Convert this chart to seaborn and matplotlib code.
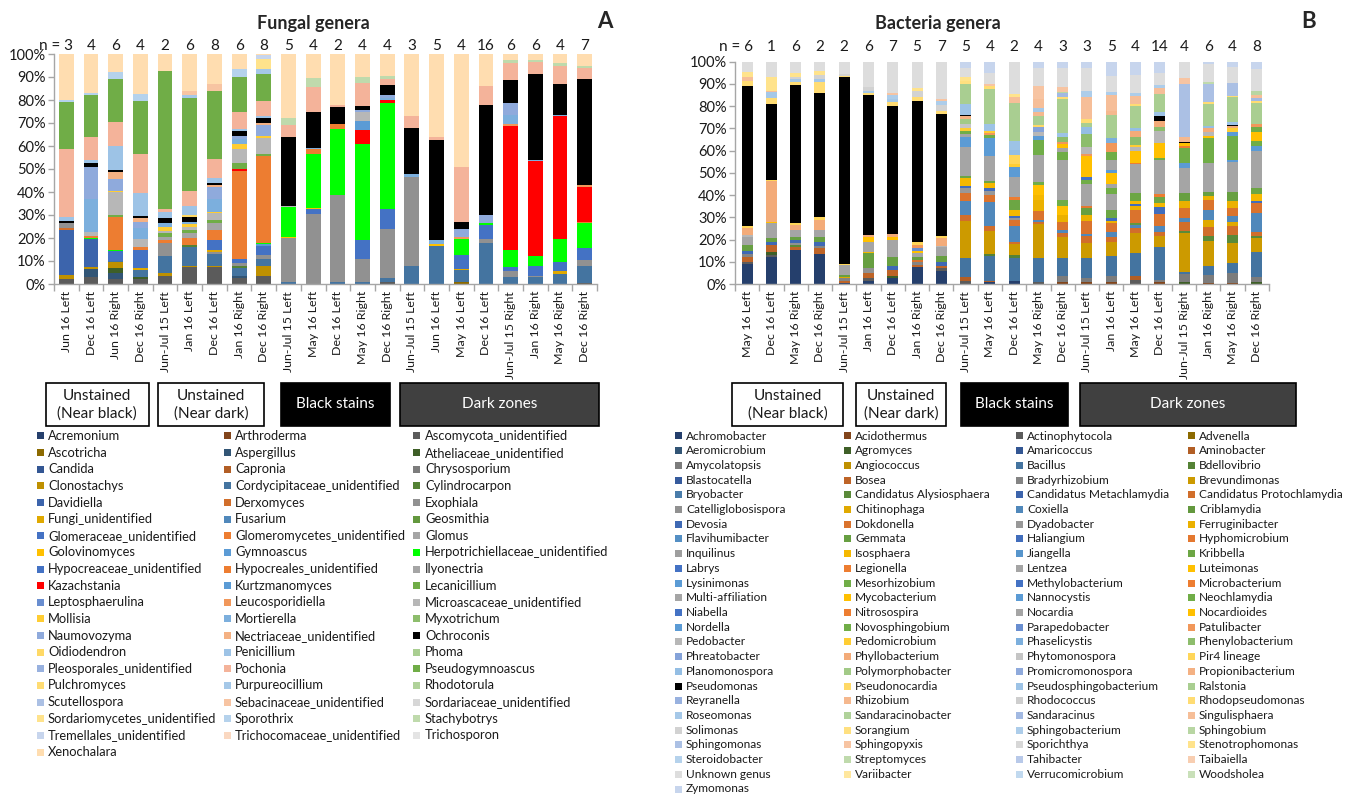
import numpy as np
import pandas as pd
import matplotlib
matplotlib.use("Agg")
import matplotlib.pyplot as plt
import matplotlib.colors as mcolors
from matplotlib.patches import Rectangle
from matplotlib.transforms import blended_transform_factory
import seaborn as sns

# ---------------------------------------------------------------- data
sample_groups = ["Unstained\n(Near black)", "Unstained\n(Near dark)", "Black stains", "Dark zones"]
group_sizes = [4, 5, 5, 8]

fungal_samples = ["Jun 16 Left", "Dec 16 Left", "Jun 16 Right", "Dec 16 Right",
                  "Jun-Jul 15 Left", "Jan 16 Left", "Dec 16 Left", "Jan 16 Right", "Dec 16 Right",
                  "Jun-Jul 15 Left", "May 16 Left", "Dec 16 Left", "May 16 Right", "Dec 16 Right",
                  "Jun-Jul 15 Left", "Jun 16 Left", "May 16 Left", "Dec 16 Left",
                  "Jun-Jul 15 Right", "Jan 16 Right", "May 16 Right", "Dec 16 Right"]
fungal_n = [3, 4, 6, 4, 2, 6, 8, 6, 8, 5, 4, 2, 4, 4, 3, 5, 4, 16, 6, 6, 4, 7]

bacteria_samples = ["May 16 Left", "Dec 16 Left", "May 16 Right", "Dec 16 Right",
                    "Jun-Jul 15 Left", "Jan 16 Left", "Dec 16 Left", "Jan 16 Right", "Dec 16 Right",
                    "Jun-Jul 15 Left", "May 16 Left", "Dec 16 Left", "May 16 Right", "Dec 16 Right",
                    "Jun-Jul 15 Left", "Jan 16 Left", "May 16 Left", "Dec 16 Left",
                    "Jun-Jul 15 Right", "Jan 16 Right", "May 16 Right", "Dec 16 Right"]
bacteria_n = [6, 1, 6, 2, 2, 6, 7, 5, 7, 5, 4, 2, 4, 3, 3, 5, 4, 14, 4, 6, 4, 8]

pct_ticks = [0, 10, 20, 30, 40, 50, 60, 70, 80, 90, 100]

fungal_genera = [
    "Acremonium", "Arthroderma", "Ascomycota_unidentified",
    "Ascotricha", "Aspergillus", "Atheliaceae_unidentified",
    "Candida", "Capronia", "Chrysosporium",
    "Clonostachys", "Cordycipitaceae_unidentified", "Cylindrocarpon",
    "Davidiella", "Derxomyces", "Exophiala",
    "Fungi_unidentified", "Fusarium", "Geosmithia",
    "Glomeraceae_unidentified", "Glomeromycetes_unidentified", "Glomus",
    "Golovinomyces", "Gymnoascus", "Herpotrichiellaceae_unidentified",
    "Hypocreaceae_unidentified", "Hypocreales_unidentified", "Ilyonectria",
    "Kazachstania", "Kurtzmanomyces", "Lecanicillium",
    "Leptosphaerulina", "Leucosporidiella", "Microascaceae_unidentified",
    "Mollisia", "Mortierella", "Myxotrichum",
    "Naumovozyma", "Nectriaceae_unidentified", "Ochroconis",
    "Oidiodendron", "Penicillium", "Phoma",
    "Pleosporales_unidentified", "Pochonia", "Pseudogymnoascus",
    "Pulchromyces", "Purpureocillium", "Rhodotorula",
    "Scutellospora", "Sebacinaceae_unidentified", "Sordariaceae_unidentified",
    "Sordariomycetes_unidentified", "Sporothrix", "Stachybotrys",
    "Tremellales_unidentified", "Trichocomaceae_unidentified", "Trichosporon",
    "Xenochalara",
]

bacteria_genera = [
    "Achromobacter", "Acidothermus", "Actinophytocola", "Advenella",
    "Aeromicrobium", "Agromyces", "Amaricoccus", "Aminobacter",
    "Amycolatopsis", "Angiococcus", "Bacillus", "Bdellovibrio",
    "Blastocatella", "Bosea", "Bradyrhizobium", "Brevundimonas",
    "Bryobacter", "Candidatus Alysiosphaera", "Candidatus Metachlamydia", "Candidatus Protochlamydia",
    "Catelliglobosispora", "Chitinophaga", "Coxiella", "Criblamydia",
    "Devosia", "Dokdonella", "Dyadobacter", "Ferruginibacter",
    "Flavihumibacter", "Gemmata", "Haliangium", "Hyphomicrobium",
    "Inquilinus", "Isosphaera", "Jiangella", "Kribbella",
    "Labrys", "Legionella", "Lentzea", "Luteimonas",
    "Lysinimonas", "Mesorhizobium", "Methylobacterium", "Microbacterium",
    "Multi-affiliation", "Mycobacterium", "Nannocystis", "Neochlamydia",
    "Niabella", "Nitrosospira", "Nocardia", "Nocardioides",
    "Nordella", "Novosphingobium", "Parapedobacter", "Patulibacter",
    "Pedobacter", "Pedomicrobium", "Phaselicystis", "Phenylobacterium",
    "Phreatobacter", "Phyllobacterium", "Phytomonospora", "Pir4 lineage",
    "Planomonospora", "Polymorphobacter", "Promicromonospora", "Propionibacterium",
    "Pseudomonas", "Pseudonocardia", "Pseudosphingobacterium", "Ralstonia",
    "Reyranella", "Rhizobium", "Rhodococcus", "Rhodopseudomonas",
    "Roseomonas", "Sandaracinobacter", "Sandaracinus", "Singulisphaera",
    "Solimonas", "Sorangium", "Sphingobacterium", "Sphingobium",
    "Sphingomonas", "Sphingopyxis", "Sporichthya", "Stenotrophomonas",
    "Steroidobacter", "Streptomyces", "Tahibacter", "Taibaiella",
    "Unknown genus", "Variibacter", "Verrucomicrobium", "Woodsholea",
    "Zymomonas",
]

# Fungal genera: relative abundance (%) per sample
fun_01 = {"Ascomycota_unidentified": 2, "Clonostachys": 2, "Davidiella": 19.5, "Derxomyces": 1,
          "Exophiala": 2, "Ochroconis": 1, "Penicillium": 1.5, "Pochonia": 29.5,
          "Pseudogymnoascus": 20.5, "Sporothrix": 1, "Xenochalara": 20}
fun_02 = {"Ascomycota_unidentified": 3, "Aspergillus": 3.5, "Clonostachys": 1, "Davidiella": 12,
          "Herpotrichiellaceae_unidentified": 0.5, "Hypocreales_unidentified": 1,
          "Microascaceae_unidentified": 1.5, "Mortierella": 14.5, "Naumovozyma": 14, "Ochroconis": 1.5,
          "Penicillium": 1.5, "Pochonia": 10, "Pseudogymnoascus": 18, "Sporothrix": 1, "Xenochalara": 17}
fun_03 = {"Ascomycota_unidentified": 2, "Aspergillus": 3, "Atheliaceae_unidentified": 2, "Clonostachys": 2.5,
          "Cordycipitaceae_unidentified": 0.5, "Glomeraceae_unidentified": 4.5,
          "Herpotrichiellaceae_unidentified": 0.5, "Hypocreales_unidentified": 14, "Lecanicillium": 1,
          "Microascaceae_unidentified": 10, "Mollisia": 0.5, "Naumovozyma": 5,
          "Nectriaceae_unidentified": 3, "Ochroconis": 1, "Penicillium": 10.5, "Pochonia": 10.5,
          "Pseudogymnoascus": 18.5, "Sporothrix": 3, "Xenochalara": 8}
fun_04 = {"Ascomycota_unidentified": 2, "Atheliaceae_unidentified": 1, "Cordycipitaceae_unidentified": 3,
          "Fungi_unidentified": 1, "Glomeraceae_unidentified": 8, "Hypocreales_unidentified": 1,
          "Microascaceae_unidentified": 3.5, "Mortierella": 5, "Naumovozyma": 2.5,
          "Nectriaceae_unidentified": 1.5, "Ochroconis": 1, "Penicillium": 10, "Pochonia": 17,
          "Pseudogymnoascus": 23, "Sporothrix": 3, "Xenochalara": 17.5}
fun_05 = {"Ascomycota_unidentified": 3.5, "Clonostachys": 1.5, "Cordycipitaceae_unidentified": 7,
          "Exophiala": 6, "Hypocreales_unidentified": 1, "Ilyonectria": 1.5, "Lecanicillium": 1.5,
          "Microascaceae_unidentified": 1, "Mollisia": 2, "Mortierella": 1.5, "Ochroconis": 2,
          "Penicillium": 3, "Pochonia": 1, "Pseudogymnoascus": 60, "Xenochalara": 7.5}
fun_06 = {"Ascomycota_unidentified": 7.5, "Clonostachys": 0.5, "Cordycipitaceae_unidentified": 8,
          "Cylindrocarpon": 1, "Hypocreales_unidentified": 3, "Ilyonectria": 2, "Lecanicillium": 1.5,
          "Microascaceae_unidentified": 1.5, "Mollisia": 1, "Mortierella": 1, "Ochroconis": 2,
          "Oidiodendron": 1, "Penicillium": 4, "Pochonia": 6.5, "Pseudogymnoascus": 40.5,
          "Purpureocillium": 1, "Sebacinaceae_unidentified": 2, "Xenochalara": 16}
fun_07 = {"Ascomycota_unidentified": 7.5, "Clonostachys": 0.5, "Cordycipitaceae_unidentified": 5,
          "Exophiala": 1, "Fungi_unidentified": 1, "Glomeraceae_unidentified": 4,
          "Hypocreales_unidentified": 4.5, "Ilyonectria": 3, "Lecanicillium": 1.5,
          "Microascaceae_unidentified": 3, "Mollisia": 0.5, "Mortierella": 5.5, "Naumovozyma": 5,
          "Nectriaceae_unidentified": 1, "Ochroconis": 1, "Penicillium": 2, "Pochonia": 8.5,
          "Pseudogymnoascus": 29.5, "Sebacinaceae_unidentified": 3, "Xenochalara": 13}
fun_08 = {"Ascomycota_unidentified": 2.5, "Aspergillus": 1, "Cordycipitaceae_unidentified": 3.5,
          "Cylindrocarpon": 1, "Exophiala": 1, "Glomeraceae_unidentified": 2,
          "Hypocreales_unidentified": 38, "Kazachstania": 1, "Lecanicillium": 2.5,
          "Microascaceae_unidentified": 6, "Mollisia": 2.5, "Mortierella": 2, "Naumovozyma": 1.5,
          "Ochroconis": 2, "Penicillium": 1, "Pochonia": 7.5, "Pseudogymnoascus": 15,
          "Sporothrix": 3.5, "Xenochalara": 6.5}
fun_09 = {"Ascomycota_unidentified": 3.5, "Clonostachys": 4.5, "Cordycipitaceae_unidentified": 3,
          "Exophiala": 1.5, "Glomeraceae_unidentified": 4, "Gymnoascus": 1,
          "Herpotrichiellaceae_unidentified": 0.5, "Hypocreales_unidentified": 37.5, "Lecanicillium": 1,
          "Microascaceae_unidentified": 7, "Mollisia": 1, "Naumovozyma": 4.5,
          "Nectriaceae_unidentified": 1, "Ochroconis": 2, "Penicillium": 1, "Pochonia": 6.5,
          "Pseudogymnoascus": 12, "Purpureocillium": 2, "Sordariomycetes_unidentified": 4.5,
          "Tremellales_unidentified": 1.5, "Xenochalara": 0.5}
fun_10 = {"Cordycipitaceae_unidentified": 1, "Exophiala": 19, "Golovinomyces": 0.5,
          "Herpotrichiellaceae_unidentified": 13, "Microascaceae_unidentified": 0.5, "Ochroconis": 30,
          "Pochonia": 5, "Stachybotrys": 3, "Xenochalara": 28}
fun_11 = {"Exophiala": 30.5, "Glomeraceae_unidentified": 2, "Golovinomyces": 0.5,
          "Herpotrichiellaceae_unidentified": 23.5, "Hypocreales_unidentified": 2, "Mortierella": 0.5,
          "Ochroconis": 16, "Pochonia": 10.5, "Stachybotrys": 4, "Xenochalara": 10.5}
fun_12 = {"Cordycipitaceae_unidentified": 1, "Exophiala": 37.5, "Herpotrichiellaceae_unidentified": 29,
          "Hypocreales_unidentified": 2, "Ochroconis": 7.5, "Pochonia": 1, "Xenochalara": 22}
fun_13 = {"Cordycipitaceae_unidentified": 1, "Exophiala": 10, "Glomeraceae_unidentified": 8,
          "Herpotrichiellaceae_unidentified": 42, "Kazachstania": 6, "Kurtzmanomyces": 4,
          "Microascaceae_unidentified": 4, "Naumovozyma": 0.5, "Ochroconis": 2, "Pochonia": 10,
          "Stachybotrys": 2.5, "Xenochalara": 10}
fun_14 = {"Ascomycota_unidentified": 1, "Cordycipitaceae_unidentified": 1.5, "Exophiala": 21.5,
          "Glomeraceae_unidentified": 8.5, "Herpotrichiellaceae_unidentified": 46, "Kazachstania": 1.5,
          "Mortierella": 1, "Naumovozyma": 1, "Ochroconis": 4.5, "Pochonia": 2.5, "Stachybotrys": 1.5,
          "Xenochalara": 9.5}
fun_15 = {"Cordycipitaceae_unidentified": 8, "Exophiala": 38.5, "Mortierella": 1.5, "Ochroconis": 20,
          "Pochonia": 5, "Xenochalara": 27}
fun_16 = {"Cordycipitaceae_unidentified": 16.5, "Golovinomyces": 1, "Mortierella": 1.5,
          "Ochroconis": 43.5, "Pochonia": 1.5, "Xenochalara": 36}
fun_17 = {"Ascotricha": 1, "Cordycipitaceae_unidentified": 5, "Fungi_unidentified": 0.5,
          "Glomeraceae_unidentified": 6, "Herpotrichiellaceae_unidentified": 7, "Leucosporidiella": 1,
          "Naumovozyma": 3.5, "Ochroconis": 3, "Pochonia": 24, "Xenochalara": 49}
fun_18 = {"Cordycipitaceae_unidentified": 18, "Exophiala": 1.5, "Glomeraceae_unidentified": 6,
          "Herpotrichiellaceae_unidentified": 1, "Naumovozyma": 3.5, "Ochroconis": 48, "Pochonia": 8,
          "Xenochalara": 14}
fun_19 = {"Cordycipitaceae_unidentified": 3, "Exophiala": 2.5, "Glomeraceae_unidentified": 2,
          "Herpotrichiellaceae_unidentified": 7.5, "Kazachstania": 53.5, "Leucosporidiella": 1,
          "Mortierella": 4, "Naumovozyma": 5, "Ochroconis": 10, "Pochonia": 7.5, "Stachybotrys": 1.5,
          "Xenochalara": 2.5}
fun_20 = {"Cordycipitaceae_unidentified": 3, "Exophiala": 0.5, "Glomeraceae_unidentified": 4.5,
          "Herpotrichiellaceae_unidentified": 4, "Kazachstania": 41.5, "Mortierella": 0.5,
          "Ochroconis": 37.5, "Pochonia": 5, "Stachybotrys": 1, "Xenochalara": 2.5}
fun_21 = {"Cordycipitaceae_unidentified": 4.5, "Fungi_unidentified": 1, "Glomeraceae_unidentified": 4,
          "Herpotrichiellaceae_unidentified": 10, "Kazachstania": 53.5, "Mortierella": 0.5,
          "Ochroconis": 13.5, "Pochonia": 8, "Stachybotrys": 1, "Xenochalara": 4}
fun_22 = {"Ascomycota_unidentified": 0.5, "Cordycipitaceae_unidentified": 7.5, "Exophiala": 2.5,
          "Glomeraceae_unidentified": 5, "Herpotrichiellaceae_unidentified": 11,
          "Hypocreales_unidentified": 0.5, "Kazachstania": 15, "Leucosporidiella": 1, "Ochroconis": 46,
          "Pochonia": 5, "Stachybotrys": 1, "Xenochalara": 5}

# Bacterial genera: relative abundance (%) per sample
bac_01 = {"Achromobacter": 9, "Actinophytocola": 1, "Bosea": 2, "Bradyrhizobium": 1.5, "Devosia": 1.5,
          "Gemmata": 2.5, "Multi-affiliation": 3.5, "Pedobacter": 1, "Phyllobacterium": 3,
          "Pir4 lineage": 1, "Pseudomonas": 63, "Rhodopseudomonas": 2.5, "Singulisphaera": 1.5,
          "Stenotrophomonas": 2.5, "Unknown genus": 4.5}
bac_02 = {"Achromobacter": 12, "Actinophytocola": 1, "Agromyces": 1.5, "Bosea": 3, "Devosia": 1.5,
          "Gemmata": 1.5, "Multi-affiliation": 7, "Nocardioides": 0.5, "Phyllobacterium": 18.5,
          "Pir4 lineage": 0.5, "Pseudomonas": 34, "Rhodopseudomonas": 2.5, "Roseomonas": 3,
          "Singulisphaera": 0.5, "Stenotrophomonas": 6, "Unknown genus": 7}
bac_03 = {"Achromobacter": 15.5, "Bosea": 1, "Candidatus Alysiosphaera": 1, "Catelliglobosispora": 1,
          "Devosia": 1.5, "Gemmata": 1, "Multi-affiliation": 3.5, "Phyllobacterium": 2,
          "Pir4 lineage": 1, "Pseudomonas": 62, "Rhodopseudomonas": 1.5, "Roseomonas": 1,
          "Solimonas": 1, "Stenotrophomonas": 2, "Unknown genus": 5}
bac_04 = {"Achromobacter": 13.5, "Bosea": 2.5, "Bradyrhizobium": 1, "Devosia": 2, "Gemmata": 2,
          "Multi-affiliation": 3.5, "Phyllobacterium": 4.5, "Pir4 lineage": 1, "Pseudomonas": 56,
          "Rhodopseudomonas": 5, "Roseomonas": 1, "Solimonas": 2, "Stenotrophomonas": 2,
          "Unknown genus": 4}
bac_05 = {"Achromobacter": 0.5, "Bosea": 1, "Bradyrhizobium": 1, "Chitinophaga": 0.5, "Gemmata": 1,
          "Multi-affiliation": 4.5, "Pir4 lineage": 0.5, "Pseudomonas": 84, "Rhodopseudomonas": 0.5,
          "Solimonas": 1, "Unknown genus": 5.5}
bac_06 = {"Achromobacter": 1.5, "Actinophytocola": 1, "Bosea": 2.5, "Catelliglobosispora": 2,
          "Gemmata": 7, "Isosphaera": 0.5, "Multi-affiliation": 4.5, "Mycobacterium": 1,
          "Nocardioides": 1, "Phyllobacterium": 1, "Pseudomonas": 63, "Rhodopseudomonas": 1,
          "Roseomonas": 1, "Solimonas": 1.5, "Unknown genus": 11.5}
bac_07 = {"Achromobacter": 2.5, "Agromyces": 1, "Bosea": 3, "Devosia": 1.5, "Gemmata": 4,
          "Multi-affiliation": 8, "Nocardioides": 1, "Phyllobacterium": 1.5, "Pseudomonas": 57.5,
          "Rhodopseudomonas": 2, "Roseomonas": 1, "Sphingobacterium": 2, "Sphingopyxis": 1,
          "Unknown genus": 14}
bac_08 = {"Achromobacter": 7.5, "Bosea": 1, "Bradyrhizobium": 1.5, "Dokdonella": 1, "Gemmata": 1,
          "Multi-affiliation": 2, "Nocardioides": 1, "Parapedobacter": 1, "Patulibacter": 1.5,
          "Pir4 lineage": 1.5, "Pseudomonas": 63.5, "Rhodopseudomonas": 1.5, "Solimonas": 3,
          "Stenotrophomonas": 1, "Unknown genus": 12}
bac_09 = {"Achromobacter": 6, "Actinophytocola": 1, "Bosea": 1, "Devosia": 2, "Gemmata": 2.5,
          "Multi-affiliation": 4, "Pedobacter": 0.5, "Phyllobacterium": 3.5, "Pir4 lineage": 1,
          "Pseudomonas": 55, "Rhodopseudomonas": 1.5, "Solimonas": 2.5, "Sphingobacterium": 2,
          "Sphingopyxis": 0.5, "Unknown genus": 17}
bac_10 = {"Actinophytocola": 1.5, "Aminobacter": 1.5, "Bacillus": 8.5, "Brevundimonas": 17,
          "Candidatus Protochlamydia": 2.5, "Coxiella": 6.5, "Dokdonella": 3.5, "Dyadobacter": 2,
          "Haliangium": 1, "Isosphaera": 3.5, "Kribbella": 1, "Multi-affiliation": 13,
          "Nannocystis": 4.5, "Nocardia": 1.5, "Novosphingobium": 1.5, "Pedomicrobium": 1,
          "Phytomonospora": 2, "Polymorphobacter": 2, "Propionibacterium": 1.5, "Pseudomonas": 0.5,
          "Pseudosphingobacterium": 5, "Ralstonia": 9, "Sorangium": 1.5, "Stenotrophomonas": 1.5,
          "Unknown genus": 4, "Zymomonas": 3}
bac_11 = {"Achromobacter": 1, "Aminobacter": 0.5, "Bacillus": 11, "Bdellovibrio": 1, "Brevundimonas": 10.5,
          "Candidatus Protochlamydia": 2, "Coxiella": 11, "Dokdonella": 3, "Dyadobacter": 2,
          "Haliangium": 1, "Isosphaera": 2.5, "Kribbella": 1, "Multi-affiliation": 11,
          "Nannocystis": 5.5, "Nordella": 2.5, "Novosphingobium": 1.5, "Patulibacter": 1,
          "Pedomicrobium": 1, "Pseudosphingobacterium": 3, "Ralstonia": 15.5, "Rhodopseudomonas": 1.5,
          "Sphingopyxis": 1, "Unknown genus": 5, "Zymomonas": 5}
bac_12 = {"Achromobacter": 1.5, "Bacillus": 10, "Bdellovibrio": 1.5, "Brevundimonas": 5,
          "Candidatus Protochlamydia": 1, "Coxiella": 7, "Dokdonella": 3, "Dyadobacter": 0.5,
          "Haliangium": 1, "Isosphaera": 3, "Kribbella": 4.5, "Microbacterium": 1,
          "Multi-affiliation": 9, "Nannocystis": 4.5, "Pedomicrobium": 1.5, "Pir4 lineage": 4,
          "Planomonospora": 2.5, "Pseudosphingobacterium": 4, "Ralstonia": 17, "Singulisphaera": 2.5,
          "Stenotrophomonas": 1.5, "Unknown genus": 14.5}
bac_13 = {"Actinophytocola": 1, "Bacillus": 10.5, "Brevundimonas": 15.5, "Candidatus Protochlamydia": 1,
          "Coxiella": 1, "Dokdonella": 4, "Ferruginibacter": 5, "Isosphaera": 2, "Luteimonas": 4.5,
          "Mesorhizobium": 1.5, "Multi-affiliation": 12, "Neochlamydia": 7, "Nordella": 1.5,
          "Pedobacter": 2, "Phreatobacter": 2, "Pseudonocardia": 1, "Ralstonia": 4, "Rhizobium": 2,
          "Roseomonas": 1.5, "Singulisphaera": 4, "Sphingopyxis": 6, "Unknown genus": 8,
          "Zymomonas": 3}
bac_14 = {"Acidothermus": 1, "Amycolatopsis": 2.5, "Bacillus": 8, "Brevundimonas": 9.5,
          "Candidatus Protochlamydia": 2, "Coxiella": 1.5, "Dokdonella": 3.5, "Ferruginibacter": 3,
          "Luteimonas": 4, "Mesorhizobium": 3, "Multi-affiliation": 18, "Neochlamydia": 3.5,
          "Nocardia": 1.5, "Nocardioides": 2, "Patulibacter": 1, "Phenylobacterium": 2,
          "Pseudosphingobacterium": 2, "Ralstonia": 15, "Rhodopseudomonas": 1, "Sandaracinus": 2,
          "Sphingobium": 0.5, "Sphingopyxis": 2, "Unknown genus": 8.5, "Zymomonas": 3}
bac_15 = {"Acidothermus": 1, "Amycolatopsis": 1.5, "Bacillus": 9, "Brevundimonas": 7,
          "Candidatus Protochlamydia": 3, "Coxiella": 1, "Dokdonella": 6, "Ferruginibacter": 2.5,
          "Gemmata": 3, "Hyphomicrobium": 1, "Multi-affiliation": 10, "Neochlamydia": 2,
          "Niabella": 1, "Nocardioides": 9.5, "Patulibacter": 1, "Pedobacter": 3,
          "Phenylobacterium": 6, "Planomonospora": 3, "Ralstonia": 2, "Rhodopseudomonas": 1.5,
          "Singulisphaera": 10, "Sphingobacterium": 3, "Unknown genus": 10, "Zymomonas": 3}
bac_16 = {"Acidothermus": 1, "Amycolatopsis": 2.5, "Bacillus": 9, "Brevundimonas": 6.5,
          "Candidatus Protochlamydia": 2, "Coxiella": 2.5, "Dokdonella": 4, "Ferruginibacter": 1,
          "Haliangium": 1, "Kribbella": 4, "Lentzea": 7, "Mesorhizobium": 2.5, "Multi-affiliation": 2,
          "Mycobacterium": 5, "Nannocystis": 1.5, "Nocardia": 4.5, "Novosphingobium": 3.5,
          "Patulibacter": 4, "Phaselicystis": 2, "Ralstonia": 10.5, "Rhizobium": 2,
          "Singulisphaera": 7, "Sphingobacterium": 1.5, "Unknown genus": 7, "Zymomonas": 6.5}
bac_17 = {"Actinophytocola": 2, "Aminobacter": 1.5, "Bacillus": 10.5, "Brevundimonas": 9,
          "Candidatus Protochlamydia": 2, "Coxiella": 1.5, "Criblamydia": 1, "Dokdonella": 6,
          "Ferruginibacter": 1.5, "Haliangium": 1, "Isosphaera": 1.5, "Kribbella": 3.5,
          "Multi-affiliation": 13, "Nitrosospira": 0.5, "Nocardioides": 5.5, "Pedobacter": 1.5,
          "Pedomicrobium": 1, "Phenylobacterium": 3.5, "Phyllobacterium": 3, "Planomonospora": 1,
          "Ralstonia": 10, "Rhodopseudomonas": 1, "Singulisphaera": 3.5, "Sphingobacterium": 1.5,
          "Unknown genus": 8, "Zymomonas": 6}
bac_18 = {"Acidothermus": 1, "Amycolatopsis": 1, "Bacillus": 14.5, "Brevundimonas": 5,
          "Candidatus Protochlamydia": 2, "Coxiella": 2.5, "Dokdonella": 5.5, "Haliangium": 3,
          "Isosphaera": 2, "Kribbella": 2.5, "Microbacterium": 1.5, "Multi-affiliation": 15.5,
          "Neochlamydia": 0.5, "Nocardioides": 7, "Pedobacter": 5.5, "Phenylobacterium": 1.5,
          "Phyllobacterium": 3, "Pseudomonas": 2, "Pseudosphingobacterium": 2, "Ralstonia": 8,
          "Singulisphaera": 2.5, "Sphingobacterium": 1.5, "Unknown genus": 5.5, "Zymomonas": 5}
bac_19 = {"Agromyces": 1, "Amycolatopsis": 3.5, "Bacillus": 1, "Brevundimonas": 17.5,
          "Candidatus Alysiosphaera": 1, "Candidatus Protochlamydia": 4, "Coxiella": 1.5,
          "Dokdonella": 4.5, "Ferruginibacter": 3.5, "Gemmata": 3.5, "Multi-affiliation": 11,
          "Nannocystis": 2.5, "Neochlamydia": 6.5, "Nitrosospira": 1, "Nocardioides": 1.5,
          "Pseudomonas": 0.5, "Rhizobium": 2, "Sphingomonas": 24, "Sphingopyxis": 2.5,
          "Unknown genus": 7.5}
bac_20 = {"Acidothermus": 0.5, "Amycolatopsis": 3.5, "Bacillus": 4, "Brevundimonas": 11.5,
          "Candidatus Alysiosphaera": 2, "Candidatus Protochlamydia": 4, "Chitinophaga": 3.5,
          "Coxiella": 4.5, "Dokdonella": 4.5, "Ferruginibacter": 1.5, "Gemmata": 2,
          "Multi-affiliation": 13, "Neochlamydia": 11, "Nocardioides": 1, "Pedobacter": 2,
          "Phyllobacterium": 1.5, "Planomonospora": 1, "Ralstonia": 10, "Rhodopseudomonas": 1,
          "Sphingomonas": 8, "Streptomyces": 1, "Unknown genus": 8, "Zymomonas": 1}
bac_21 = {"Acidothermus": 0.5, "Amycolatopsis": 4.5, "Bacillus": 4.5, "Brevundimonas": 9,
          "Candidatus Alysiosphaera": 3.5, "Candidatus Protochlamydia": 4, "Chitinophaga": 2,
          "Coxiella": 2.5, "Dokdonella": 3.5, "Ferruginibacter": 3.5, "Gemmata": 4,
          "Multi-affiliation": 13.5, "Nannocystis": 1, "Neochlamydia": 10.5, "Nordella": 2,
          "Pedomicrobium": 1.5, "Phyllobacterium": 1, "Pseudomonas": 0.5, "Pseudosphingobacterium": 1.5,
          "Ralstonia": 11, "Rhodopseudomonas": 0.5, "Sphingomonas": 6, "Unknown genus": 7,
          "Zymomonas": 2.5}
bac_22 = {"Agromyces": 1, "Amycolatopsis": 2, "Bacillus": 11.5, "Brevundimonas": 6,
          "Candidatus Alysiosphaera": 1, "Candidatus Protochlamydia": 2, "Coxiella": 8.5,
          "Dokdonella": 4.5, "Haliangium": 1, "Isosphaera": 3, "Kribbella": 2.5,
          "Multi-affiliation": 17, "Nannocystis": 2, "Neochlamydia": 2.5, "Nocardioides": 4,
          "Novosphingobium": 2, "Patulibacter": 1.5, "Ralstonia": 9.5, "Rhodopseudomonas": 1,
          "Sandaracinus": 1, "Singulisphaera": 1.5, "Sphingobium": 2, "Unknown genus": 9.5,
          "Zymomonas": 3.5}

fungal_bars = [fun_01, fun_02, fun_03, fun_04, fun_05, fun_06, fun_07, fun_08, fun_09, fun_10, fun_11,
               fun_12, fun_13, fun_14, fun_15, fun_16, fun_17, fun_18, fun_19, fun_20, fun_21, fun_22]
bacteria_bars = [bac_01, bac_02, bac_03, bac_04, bac_05, bac_06, bac_07, bac_08, bac_09, bac_10, bac_11,
                 bac_12, bac_13, bac_14, bac_15, bac_16, bac_17, bac_18, bac_19, bac_20, bac_21, bac_22]

# ---------------------------------------------------------------- colours
ACCENTS = ["#4472C4", "#ED7D31", "#A5A5A5", "#FFC000", "#5B9BD5", "#70AD47"]


def shade(hex_color, t):
    """t < 0 darkens, t > 0 mixes towards white."""
    rgb = np.array(mcolors.to_rgb(hex_color))
    if t < 0:
        rgb = rgb * (1 + t)
    else:
        rgb = rgb + (1 - rgb) * t
    return tuple(np.clip(rgb, 0, 1))


def cycle_palette(names, tones, overrides):
    pal = {}
    for i, name in enumerate(names):
        pal[name] = shade(ACCENTS[i % 6], tones[min(i // 6, len(tones) - 1)])
    pal.update({k: mcolors.to_rgb(v) for k, v in overrides.items()})
    return pal


fungal_palette = cycle_palette(
    fungal_genera, [-0.45, -0.25, -0.12, 0, 0, 0.2, 0.4, 0.45, 0.55, 0.7],
    {"Herpotrichiellaceae_unidentified": "#00FF00", "Kazachstania": "#FF0000",
     "Ochroconis": "#000000", "Pseudogymnoascus": "#70AD47", "Xenochalara": "#FFDDB0",
     "Pochonia": "#F4B39A"})
bacteria_palette = cycle_palette(
    bacteria_genera, [-0.45, -0.25, -0.2, -0.12, -0.08, -0.04, 0, 0, 0, 0.2, 0.35, 0.4, 0.45,
                      0.5, 0.55, 0.62, 0.7],
    {"Pseudomonas": "#000000"})

# ---------------------------------------------------------------- figure
sns.set_theme(style="ticks")
plt.rcParams["font.family"] = ["Lato", "DejaVu Sans"]

W, H = 1360, 796
fig = plt.figure(figsize=(W / 100, H / 100), dpi=100)


def fx(x):
    return x / W


def fy(y):
    return 1 - y / H


AXIS_GREY = "#A6A6A6"
TEXT = "#1A1A1A"


def stacked_panel(ax, bars, genera, palette, shrink):
    rows = [(i, g, v) for i, bar in enumerate(bars) for g, v in bar.items()]
    df = pd.DataFrame(rows, columns=["sample", "genus", "share"])
    used = set(df["genus"])
    present = [g for g in genera if g in used]
    # first hue level is stacked on top, so pass the list reversed
    sns.histplot(data=df, x="sample", weights="share", hue="genus",
                 hue_order=present[::-1], palette={g: palette[g] for g in present},
                 multiple="fill", discrete=True, shrink=shrink, alpha=1,
                 linewidth=0, edgecolor="none", legend=False, ax=ax)
    ax.set_xlim(-0.5, len(bars) - 0.5)
    ax.set_ylim(0, 1)
    ax.set_xlabel("")
    ax.set_ylabel("")
    ax.set_yticks([t / 100 for t in pct_ticks])
    ax.set_yticklabels([f"{t}%" for t in pct_ticks], fontsize=10.5)
    for s in ("top", "right"):
        ax.spines[s].set_visible(False)
    for s in ("left", "bottom"):
        ax.spines[s].set_color(AXIS_GREY)
        ax.spines[s].set_linewidth(1)
    ax.tick_params(axis="y", length=4, width=1, color=AXIS_GREY, pad=2, labelcolor=TEXT)
    ax.set_xticks(range(len(bars)), minor=False)
    ax.set_xticks(np.arange(-0.5, len(bars), 1), minor=True)
    ax.tick_params(axis="x", which="major", length=0, pad=5, labelcolor=TEXT)
    ax.tick_params(axis="x", which="minor", length=5, width=1, color=AXIS_GREY)


def sample_axis(ax, labels, counts, n_y):
    ax.set_xticklabels(labels, rotation=90, fontsize=8.9)
    tr = blended_transform_factory(ax.transData, ax.transAxes)
    for i, n in enumerate(counts):
        if i == 0:
            ax.text(i + 0.25, n_y, f"n = {n}", transform=tr, ha="right", va="center",
                    fontsize=11, color=TEXT)
        else:
            ax.text(i, n_y, f"{n}", transform=tr, ha="center", va="center", fontsize=11, color=TEXT)


def group_boxes(ax, spans):
    tr = blended_transform_factory(ax.transData, fig.transFigure)
    styles = [("white", TEXT), ("white", TEXT), ("black", "white"), ("#404040", "white")]
    y0, y1 = fy(426), fy(383)
    for (x0, x1), label, (face, txt) in zip(spans, sample_groups, styles):
        fig.add_artist(Rectangle((x0, y0), x1 - x0, y1 - y0, transform=tr, facecolor=face,
                                 edgecolor="black", linewidth=1.2, zorder=5))
        fig.text((x0 + x1) / 2, (y0 + y1) / 2, label, transform=tr,
                 ha="center", va="center", color=txt, fontsize=11,
                 linespacing=1.3, zorder=6)


def legend_block(names, palette, col_x, y_first, y_step, fontsize):
    ncol = len(col_x)
    for i, name in enumerate(names):
        r, c = divmod(i, ncol)
        x = col_x[c]
        y = y_first + r * y_step
        fig.add_artist(Rectangle((fx(x - 3.5), fy(y + 3.5)), 7 / W, 7 / H,
                                 transform=fig.transFigure, facecolor=palette[name],
                                 edgecolor="none"))
        fig.text(fx(x + 8), fy(y), name, ha="left", va="center", fontsize=fontsize, color=TEXT)


# Panel A: fungi
axA = fig.add_axes([fx(54), fy(284), fx(597) - fx(54), fy(54) - fy(284)])
stacked_panel(axA, fungal_bars, fungal_genera, fungal_palette, 0.6)
sample_axis(axA, fungal_samples, fungal_n, 1.033)
group_boxes(axA, [(-0.83, 3.34), (3.71, 8.0), (8.7, 13.1), (13.5, 21.6)])
fig.text(fx(313), fy(23), "Fungal genera", ha="center", va="center", fontsize=13, fontweight="bold")
fig.text(fx(605), fy(22), "A", ha="center", va="center", fontsize=16, fontweight="bold")
legend_block(fungal_genera, fungal_palette, [40, 227, 417], 436, (752 - 436) / 19, 9.3)

# Panel B: bacteria
axB = fig.add_axes([fx(735), fy(284), fx(1269) - fx(735), fy(61.7) - fy(284)])
stacked_panel(axB, bacteria_bars, bacteria_genera, bacteria_palette, 0.45)
sample_axis(axB, bacteria_samples, bacteria_n, 1.066)
group_boxes(axB, [(-0.62, 3.95), (4.5, 8.2), (8.8, 13.2), (13.7, 22.6)])
fig.text(fx(938), fy(24), "Bacteria genera", ha="center", va="center", fontsize=13, fontweight="bold")
fig.text(fx(1309), fy(22), "B", ha="center", va="center", fontsize=16, fontweight="bold")
legend_block(bacteria_genera, bacteria_palette, [678, 847, 1019, 1191], 436, (789 - 436) / 24, 8.6)

fig.savefig("out.png", dpi=100)
